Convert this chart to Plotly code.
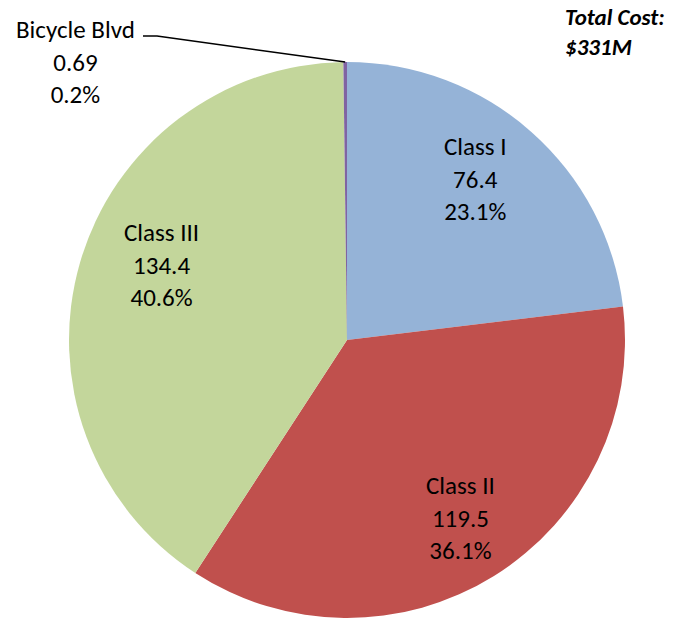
import math
import plotly.graph_objects as go

categories = ["Class I", "Class II", "Class III", "Bicycle Blvd"]
costs = [76.4, 119.5, 134.4, 0.69]
cost_labels = ["76.4", "119.5", "134.4", "0.69"]
percent_labels = ["23.1%", "36.1%", "40.6%", "0.2%"]
colors = ["#95B3D7", "#C0504D", "#C3D69B", "#8064A2"]
total_text = "Total Cost:<br>$331M"

OFF = 8  # default page body margin
W, H = 678 - OFF, 619 - OFF
PX_L, PX_T, SIZE = 69, 62, 556  # pie box in page pixels
L, T = PX_L - OFF, PX_T - OFF
R = W - L - SIZE
B = H - T - SIZE
PW = PH = SIZE

FONT = "Calibri, Carlito, Lato, Noto Sans, sans-serif"
FS = 25

fig = go.Figure(go.Pie(
    labels=categories,
    values=costs,
    marker=dict(colors=colors, line=dict(width=0)),
    sort=False,
    direction="clockwise",
    rotation=0,
    textinfo="none",
    hoverinfo="label+value+percent",
    domain=dict(x=[0, 1], y=[0, 1]),
    showlegend=False,
))

total = sum(costs)
annotations = []
cum = 0.0
mids = []
for v in costs:
    mid = (cum + v / 2) / total * 2 * math.pi
    mids.append(mid)
    cum += v

# small pixel nudges of the in-slice labels (dx right, dy down)
nudges = [(-8, -7), (5, 3), (12, -18)]
r_lab = 0.74
for i in range(3):
    a = mids[i]
    dx, dy = nudges[i]
    annotations.append(dict(
        x=0.5 + 0.5 * r_lab * math.sin(a) + dx / PW,
        y=0.5 + 0.5 * r_lab * math.cos(a) - dy / PH,
        xref="paper", yref="paper", showarrow=False,
        text=f"{categories[i]}<br>{cost_labels[i]}<br>{percent_labels[i]}",
        font=dict(family=FONT, size=FS, color="black"), align="center",
        xanchor="center", yanchor="middle",
    ))

def px2paper(px, py):
    # page pixel -> paper coords
    return (px - PX_L) / PW, (PX_T + PH - py) / PH

bx, by = px2paper(75, 62)
annotations.append(dict(
    x=bx, y=by, xref="paper", yref="paper", showarrow=False,
    text=f"{categories[3]}<br>{cost_labels[3]}<br>{percent_labels[3]}",
    font=dict(family=FONT, size=FS, color="black"), align="center",
    xanchor="center", yanchor="middle",
))

tx, ty = px2paper(563, 32)
annotations.append(dict(
    x=tx, y=ty, xref="paper", yref="paper", showarrow=False,
    text=f"<b><i>{total_text}</i></b>",
    font=dict(family=FONT, size=23, color="black"), align="left",
    xanchor="left", yanchor="middle",
))

# leader line to Bicycle Blvd slice (end point on the pie edge at slice mid)
a = mids[3]
ex, ey = 0.5 + 0.5 * math.sin(a), 0.5 + 0.5 * math.cos(a)
sx, sy = px2paper(143, 36)
mx, my = px2paper(157, 36)
fig.add_shape(type="path", xref="paper", yref="paper",
              path=f"M {sx} {sy} L {mx} {my} L {ex} {ey}",
              line=dict(color="black", width=1.5))

fig.update_layout(
    width=W, height=H,
    margin=dict(l=L, r=R, t=T, b=B),
    paper_bgcolor="white", plot_bgcolor="white",
    annotations=annotations,
)

fig.write_html("out.html")
